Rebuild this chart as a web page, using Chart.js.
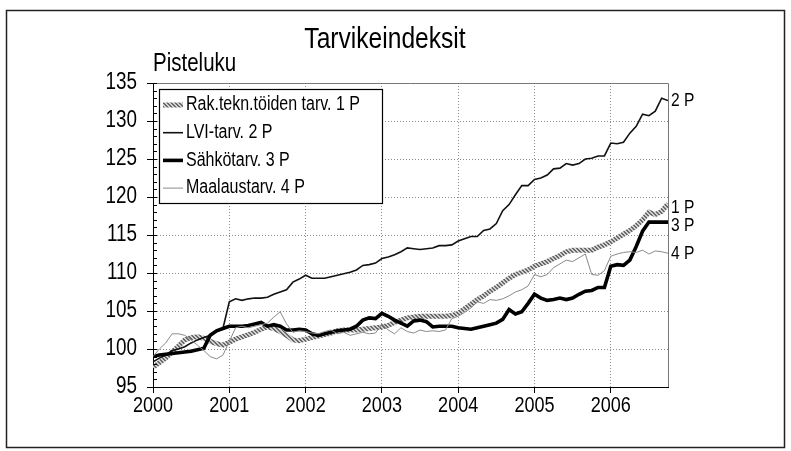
<!DOCTYPE html>
<html>
<head>
<meta charset="utf-8">
<script src="https://cdn.jsdelivr.net/npm/chart.js@4/dist/chart.umd.min.js"></script>
<style>
  body { margin: 0; background: #fff; }
</style>
</head>
<body>
<canvas id="myChart" width="791" height="451"></canvas>
<script>
const yearLabels = ['2000', '2001', '2002', '2003', '2004', '2005', '2006'];
const seriesNames = ['Rak.tekn.töiden tarv. 1 P', 'LVI-tarv. 2 P', 'Sähkötarv. 3 P', 'Maalaustarv. 4 P'];
const endLabels = ['1 P', '2 P', '3 P', '4 P'];

// kuukausittain 1/2000 - 10/2006
const rak = [97.6, 98.2, 98.8, 99.6, 100.4, 101.2, 101.5, 101.6, 101.4, 101.0, 100.7, 100.5,
  100.9, 101.3, 101.6, 101.9, 102.2, 102.6, 102.9, 102.7, 102.3, 101.8, 101.2, 101.1,
  101.3, 101.5, 101.7, 101.9, 102.1, 102.4, 102.5, 102.5, 102.5, 102.6, 102.7, 102.8,
  102.9, 103.1, 103.5, 103.8, 104.1, 104.2, 104.3, 104.3, 104.3, 104.3, 104.3, 104.4,
  104.7, 105.3, 105.9, 106.5, 107.0, 107.6, 108.1, 108.7, 109.3, 109.8, 110.1, 110.4,
  110.9, 111.2, 111.5, 111.9, 112.3, 112.8, 113.0, 113.0, 113.0, 113.0, 113.4, 113.7,
  114.1, 114.6, 115.1, 115.6, 116.2, 117.0, 118.0, 117.7, 118.1, 119.1];

const lvi = [98.3, 98.8, 99.2, 99.8, 100.0, 100.3, 100.8, 101.2, 101.5, 101.8, 102.3, 102.7,
  106.2, 106.6, 106.4, 106.6, 106.7, 106.7, 106.8, 107.2, 107.5, 107.8, 108.8, 109.2,
  109.7, 109.3, 109.3, 109.3, 109.5, 109.7, 109.9, 110.1, 110.4, 111.0, 111.1, 111.3,
  111.9, 112.1, 112.4, 112.8, 113.3, 113.2, 113.1, 113.2, 113.3, 113.6, 113.6, 113.7,
  114.2, 114.5, 114.8, 114.8, 115.6, 115.8, 116.5, 118.2, 119.0, 120.3, 121.5, 121.5,
  122.3, 122.5, 122.9, 123.7, 123.8, 124.4, 124.2, 124.4, 125.0, 125.1, 125.4, 125.4,
  127.1, 127.0, 127.2, 128.4, 129.3, 130.9, 130.7, 131.3, 133.0, 132.7];

const sahko = [99.0, 99.2, 99.3, 99.4, 99.5, 99.6, 99.7, 99.9, 100.1, 101.8, 102.4, 102.7,
  103.0, 103.0, 103.0, 103.1, 103.3, 103.5, 103.0, 103.2, 103.0, 102.5, 102.5, 102.6,
  102.5, 102.0, 101.8, 102.0, 102.2, 102.4, 102.5, 102.6, 103.0, 103.8, 104.1, 104.0,
  104.7, 104.3, 103.8, 103.4, 103.0, 103.7, 103.8, 103.6, 102.9, 103.0, 103.0, 103.0,
  102.8, 102.7, 102.6, 102.8, 103.0, 103.2, 103.4, 103.9, 105.2, 104.6, 104.9, 106.0,
  107.2, 106.7, 106.4, 106.5, 106.7, 106.5, 106.7, 107.2, 107.6, 107.7, 108.1, 108.1,
  110.9, 111.1, 111.0, 111.7, 113.5, 115.5, 116.7, 116.7, 116.7, 116.7];

const maalaus = [99.0, 100.0, 100.8, 102.0, 102.0, 101.8, 101.2, 100.5, 99.8, 99.0, 98.7, 99.2,
  101.0, 102.8, 103.0, 102.8, 103.0, 103.2, 103.4, 104.2, 104.9, 103.3, 102.2, 102.4,
  102.3, 102.1, 102.0, 102.3, 102.5, 102.0, 102.2, 101.8, 102.0, 102.2, 102.0, 102.1,
  103.3, 102.5, 102.0, 102.8, 102.3, 102.1, 102.5, 102.3, 102.4, 102.3, 102.5, 104.0,
  104.3, 104.8, 105.4, 106.2, 106.0, 106.5, 106.4, 106.6, 107.0, 107.5, 107.8, 108.3,
  109.8, 109.5, 109.8, 110.7, 111.2, 111.7, 111.5, 112.0, 112.5, 109.8, 109.7, 110.3,
  112.2, 112.5, 112.7, 112.8, 112.7, 113.0, 112.5, 112.9, 112.8, 112.6];

const FONT = "'Liberation Sans', Arial, sans-serif";
const SQUEEZE = 0.82; // kapea kirjasin (Arial Narrow -tyyli)

// harmaa "köysi"-kuvio 1 P -viivalle
const hatch = (() => {
  const c = document.createElement('canvas');
  c.width = 4; c.height = 4;
  const g = c.getContext('2d');
  g.fillStyle = '#d2d2d2';
  g.fillRect(0, 0, 4, 4);
  g.fillStyle = '#6a6a6a';
  [[0, 0], [1, 0], [1, 1], [2, 1], [2, 2], [3, 2], [3, 3], [0, 3]].forEach(p => g.fillRect(p[0], p[1], 1, 1));
  return g.createPattern(c, 'repeat');
})();

const toPoints = arr => arr.map((v, i) => ({ x: i, y: v }));

const styles = [
  { color: hatch, width: 5 },
  { color: '#111', width: 1.6 },
  { color: '#000', width: 3.6 },
  { color: '#8a8a8a', width: 1 }
];

const data = {
  datasets: [rak, lvi, sahko, maalaus].map((arr, i) => ({
    label: seriesNames[i],
    data: toPoints(arr),
    borderColor: styles[i].color,
    borderWidth: styles[i].width,
    pointRadius: 0,
    tension: 0,
    order: 3 - i
  }))
};

function txt(ctx, s, x, y, size, align) {
  ctx.save();
  ctx.font = size + 'px ' + FONT;
  ctx.fillStyle = '#000';
  ctx.textAlign = align;
  ctx.textBaseline = 'middle';
  ctx.translate(x, y);
  ctx.scale(SQUEEZE, 1);
  ctx.fillText(s, 0, 0);
  ctx.restore();
}

const decor = {
  id: 'decor',
  beforeDraw(chart) {
    const ctx = chart.ctx;
    ctx.save();
    ctx.fillStyle = '#fff';
    ctx.fillRect(0, 0, chart.width, chart.height);
    ctx.strokeStyle = '#222';
    ctx.lineWidth = 1.5;
    ctx.strokeRect(6.5, 10.5, 778, 437);
    ctx.restore();
    txt(ctx, 'Tarvikeindeksit', 385, 40, 30, 'center');
    txt(ctx, 'Pisteluku', 153, 64, 25, 'left');
  },
  afterDraw(chart) {
    const ctx = chart.ctx;
    const a = chart.chartArea;
    const x = chart.scales.x;
    const y = chart.scales.y;
    ctx.save();
    // kehys
    ctx.strokeStyle = '#777';
    ctx.lineWidth = 1;
    ctx.beginPath();
    ctx.moveTo(a.left, a.top + 0.5);
    ctx.lineTo(a.right + 0.5, a.top + 0.5);
    ctx.lineTo(a.right + 0.5, a.bottom);
    ctx.stroke();
    // y-akselin apujaot
    ctx.strokeStyle = '#000';
    ctx.beginPath();
    for (let v = y.min; v <= y.max; v++) {
      const py = Math.round(y.getPixelForValue(v)) + 0.5;
      ctx.moveTo(a.left, py);
      ctx.lineTo(a.left + 4, py);
    }
    ctx.stroke();
    ctx.restore();

    // akselien numerot
    y.ticks.forEach(t => txt(ctx, String(t.value), a.left - 16, y.getPixelForValue(t.value), 23, 'right'));
    x.ticks.forEach(t => {
      if (t.value % 12 === 0) txt(ctx, yearLabels[t.value / 12], x.getPixelForValue(t.value), a.bottom + 19, 22, 'center');
    });

    // selite
    const bx = a.left + 6, by = a.top + 6, bw = 223, bh = 114;
    ctx.save();
    ctx.fillStyle = '#fff';
    ctx.fillRect(bx, by, bw, bh);
    ctx.strokeStyle = '#000';
    ctx.lineWidth = 1.2;
    ctx.strokeRect(bx + 0.5, by + 0.5, bw, bh);
    seriesNames.forEach((name, i) => {
      const ly = by + 16 + i * 27.7;
      ctx.strokeStyle = styles[i].color;
      ctx.lineWidth = styles[i].width;
      ctx.beginPath();
      ctx.moveTo(bx + 4, ly);
      ctx.lineTo(bx + 24, ly);
      ctx.stroke();
      txt(ctx, name, bx + 27, ly, 19.5, 'left');
    });
    ctx.restore();

    // sarjojen nimet oikealla
    const shift = [4, 0, 4, 1];
    chart.data.datasets.forEach((ds, i) => {
      const meta = chart.getDatasetMeta(i);
      const last = meta.data[meta.data.length - 1];
      txt(ctx, endLabels[i], a.right + 3, last.y + shift[i], 19, 'left');
    });
  }
};

const config = {
  type: 'line',
  data: data,
  options: {
    responsive: false,
    animation: false,
    devicePixelRatio: 1,
    layout: { padding: { top: 83, right: 123, left: 0, bottom: 0 } },
    plugins: {
      legend: { display: false },
      title: { display: false },
      tooltip: { enabled: false }
    },
    scales: {
      x: {
        type: 'linear',
        min: 0,
        max: 81,
        afterFit: s => { s.height = 64; },
        ticks: { stepSize: 12, includeBounds: false, autoSkip: false, display: false },
        grid: { color: '#8c8c8c', lineWidth: 1, tickColor: '#000', tickLength: 6, tickBorderDash: [] },
        border: { color: '#000', width: 1, dash: [1, 2] }
      },
      y: {
        min: 95,
        max: 135,
        afterFit: s => { s.width = 153; },
        ticks: { stepSize: 5, display: false },
        grid: { color: '#8c8c8c', lineWidth: 1, tickColor: '#000', tickLength: 6, tickBorderDash: [] },
        border: { color: '#000', width: 1, dash: [1, 2] }
      }
    }
  },
  plugins: [decor]
};

const chart = () => {
  const elem = new Chart(document.getElementById('myChart'), config);
  return elem;
};

chart();
</script>
</body>
</html>
